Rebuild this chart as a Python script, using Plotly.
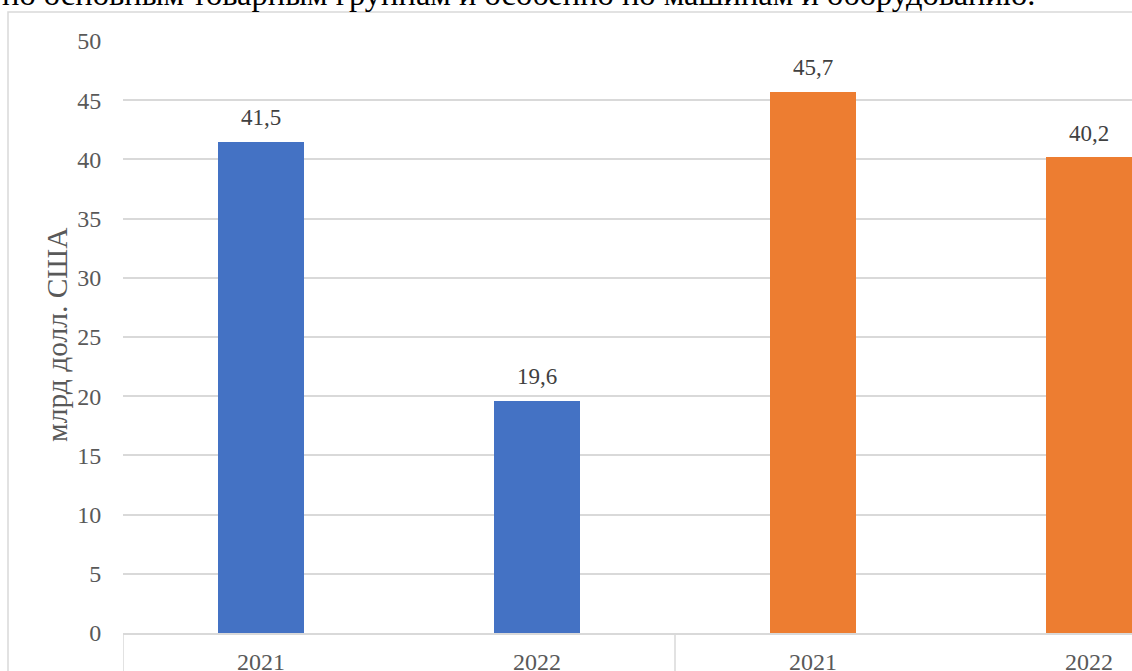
import plotly.graph_objects as go

# Data
year_labels = ["2021", "2022", "2021", "2022"]
values = [41.5, 19.6, 45.7, 40.2]
value_labels = ["41,5", "19,6", "45,7", "40,2"]
bar_colors = ["#4472C4", "#4472C4", "#ED7D31", "#ED7D31"]
y_ticks = [0, 5, 10, 15, 20, 25, 30, 35, 40, 45, 50]
y_title = "млрд долл. США"
top_text = "по основным товарным группам и особенно по машинам и оборудованию."

W, H = 1132, 671
L, R, T, B = 123, 0, 41, 38
pw = W - L - R
ph = H - T - B

def px_x(p):
    return (p - L) / pw

def px_y(p):
    return (H - B - p) / ph

FONT = "Liberation Serif, Times New Roman, serif"
xs = list(range(len(values)))

fig = go.Figure()
fig.add_trace(go.Bar(
    x=xs, y=values, width=0.312,
    marker=dict(color=bar_colors, line=dict(width=0)),
    hoverinfo="skip",
))

annotations = []
for xi, v, lab in zip(xs, values, value_labels):
    annotations.append(dict(
        x=xi, y=v, xref="x", yref="y", text=lab, showarrow=False,
        yanchor="middle", xanchor="center", yshift=24,
        font=dict(family=FONT, size=23, color="#404040"),
    ))

annotations.append(dict(
    x=px_x(57), y=px_y(335), xref="paper", yref="paper", text=y_title,
    showarrow=False, textangle=-90, xanchor="center", yanchor="middle",
    font=dict(family=FONT, size=29.5, color="#595959"),
))
annotations.append(dict(
    x=px_x(0), y=px_y(14.5), xref="paper", yref="paper", text=top_text,
    showarrow=False, xanchor="left", yanchor="bottom",
    font=dict(family=FONT, size=32.5, color="#000000"),
))

shapes = [
    # chart box border
    dict(type="rect", xref="paper", yref="paper",
         x0=px_x(8), x1=px_x(W + 40), y0=px_y(H + 40), y1=px_y(12),
         line=dict(color="#D9D9D9", width=1.5), layer="below"),
]
for xv in [-0.5, 1.5, 3.5]:
    shapes.append(dict(type="line", xref="x", yref="paper",
                       x0=xv, x1=xv, y0=0, y1=px_y(H + 10),
                       line=dict(color="#D9D9D9", width=1.5)))

fig.update_layout(
    width=W, height=H,
    margin=dict(l=L, r=R, t=T, b=B, autoexpand=False),
    paper_bgcolor="white", plot_bgcolor="white",
    showlegend=False,
    annotations=annotations, shapes=shapes,
    bargap=0,
)
fig.update_xaxes(
    range=[-0.5, -0.5 + pw / 276.0],
    tickmode="array", tickvals=xs, ticktext=year_labels,
    showgrid=False, zeroline=False, automargin=False,
    showline=True, linecolor="#D9D9D9", linewidth=1.5,
    ticks="outside", ticklen=6, tickcolor="rgba(0,0,0,0)",
    tickfont=dict(family=FONT, size=24, color="#595959"),
    fixedrange=True,
)
fig.update_yaxes(
    range=[0, 50], tickmode="array", tickvals=y_ticks,
    showgrid=True, gridcolor="#D9D9D9", gridwidth=1.5,
    zeroline=False, showline=False, automargin=False,
    ticks="outside", ticklen=16, tickcolor="rgba(0,0,0,0)",
    tickfont=dict(family=FONT, size=24, color="#595959"),
    fixedrange=True,
)

fig.write_html(
    "out.html",
    config={"displayModeBar": False},
    post_script="document.body.style.margin='0';document.body.style.overflow='hidden';",
)
